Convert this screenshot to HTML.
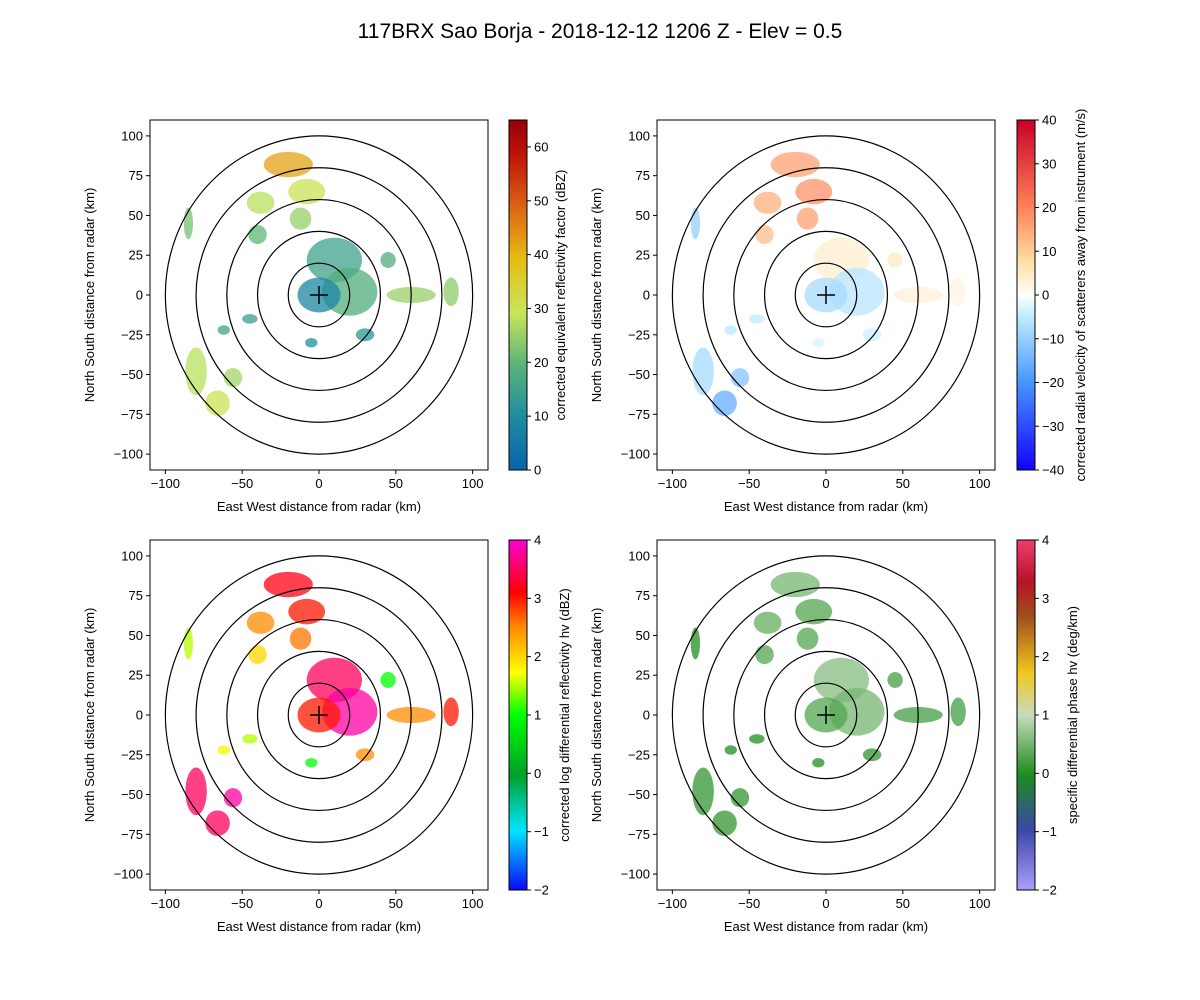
<!DOCTYPE html>
<html><head><meta charset="utf-8"><style>
body{margin:0;background:#fff}
svg{display:block;font-family:"Liberation Sans","DejaVu Sans",sans-serif}
</style></head><body>
<svg id="fig" width="1200" height="1000" viewBox="0 0 1200 1000" xmlns="http://www.w3.org/2000/svg">
<rect width="1200" height="1000" fill="#fff"/>
<text x="600" y="38" font-size="21" text-anchor="middle">117BRX Sao Borja - 2018-12-12 1206 Z -  Elev = 0.5</text>
</svg>
<script>
// echo cell data (km): center x, center y, radius x, radius y
const cellX=[-20,-8,-38,-12,-85,-40,10,20,0,60,86,45,-80,-56,-66,-45,-62,30,-5];
const cellY=[82,65,58,48,45,38,22,2,0,0,2,22,-48,-52,-68,-15,-22,-25,-30];
const cellRX=[16,12,9,7,3,6,18,18,14,16,5,5,7,6,8,5,4,6,4];
const cellRY=[8,8,7,7,10,6,14,15,11,5,9,5,15,6,8,3,3,4,3];
const reflValues=[42,30,28,25,22,20,15,18,8,25,24,18,28,26,30,14,15,12,10];
const velValues=[16,18,14,16,-10,12,4,-6,-8,3,2,5,-8,-12,-16,-5,-6,-4,-3];
const zdrValues=[3.2,3,2.5,2.6,1.5,2,3.5,3.8,3,2.5,3,1,3.5,3.8,3.5,1.5,1.8,2.5,1];
const kdpValues=[0.5,0.3,0.4,0.3,0,0.3,0.6,0.5,0.3,0.2,0.2,0.2,0.1,0.1,0.1,0,0,0.1,0];
const ringRadii=[20,40,60,80,100];
const xTicks=[-100,-50,0,50,100];
const yTicks=[-100,-75,-50,-25,0,25,50,75,100];

const NS="http://www.w3.org/2000/svg";
const svg=document.getElementById('fig');
function el(t,a,p){const e=document.createElementNS(NS,t);for(const k in a)e.setAttribute(k,a[k]);(p||svg).appendChild(e);return e;}
function lerpMap(stops,t){t=Math.max(0,Math.min(1,t));for(let i=1;i<stops.length;i++){if(t<=stops[i][0]){const a=stops[i-1],b=stops[i];const f=(t-a[0])/(b[0]-a[0]||1);const c=[0,1,2].map(j=>Math.round(a[1][j]+(b[1][j]-a[1][j])*f));return `rgb(${c})`;}}return `rgb(${stops[stops.length-1][1]})`;}
const cmRefl=[[0,[10,100,170]],[0.15,[30,140,160]],[0.3,[90,180,120]],[0.45,[200,230,90]],[0.6,[230,190,20]],[0.75,[220,100,20]],[0.9,[190,20,10]],[1,[150,0,10]]];
const cmVel=[[0,[20,0,250]],[0.25,[70,150,255]],[0.45,[200,240,255]],[0.5,[255,255,250]],[0.6,[255,220,160]],[0.75,[255,130,90]],[1,[200,0,40]]];
const cmZdr=[[0,[10,10,250]],[0.17,[0,230,255]],[0.33,[0,160,40]],[0.5,[0,255,0]],[0.62,[255,255,0]],[0.75,[255,140,0]],[0.85,[255,0,0]],[1,[255,0,210]]];
const cmKdp=[[0,[170,160,250]],[0.17,[60,70,170]],[0.33,[30,140,30]],[0.5,[200,220,190]],[0.62,[240,200,30]],[0.78,[160,80,30]],[0.88,[180,20,40]],[1,[240,60,110]]];

const panels=[
 {ax:150,ay:120,cb:509,lo:56,vals:reflValues,cm:cmRefl,vmin:0,vmax:65,ticks:[0,10,20,30,40,50,60],label:"corrected equivalent reflectivity factor (dBZ)",name:"reflectivity"},
 {ax:657,ay:120,cb:1017,lo:68,vals:velValues,cm:cmVel,vmin:-40,vmax:40,ticks:[-40,-30,-20,-10,0,10,20,30,40],label:"corrected radial velocity of scatterers away from instrument (m/s)",name:"velocity"},
 {ax:150,ay:540,cb:509,lo:60,vals:zdrValues,cm:cmZdr,vmin:-2,vmax:4,ticks:[-2,-1,0,1,2,3,4],label:"corrected log differential reflectivity hv (dBZ)",name:"zdr"},
 {ax:657,ay:540,cb:1017,lo:60,vals:kdpValues,cm:cmKdp,vmin:-2,vmax:4,ticks:[-2,-1,0,1,2,3,4],label:"specific differential phase hv (deg/km)",name:"kdp"}];
const W=338,H=350;
panels.forEach((p,pi)=>{
 const g=el('g',{});
 
 
 const sx=v=>p.ax+(v+110)/220*W, sy=v=>p.ay+(110-v)/220*H;
 const clipId='c'+pi;
 const cp=el('clipPath',{id:clipId},g);el('rect',{x:p.ax,y:p.ay,width:W,height:H},cp);
 const dg=el('g',{'clip-path':`url(#${clipId})`},g);
 cellX.forEach((cx,i)=>{
  const c=lerpMap(p.cm,(p.vals[i]-p.vmin)/(p.vmax-p.vmin));
  const e=el('ellipse',{cx:sx(cx),cy:sy(cellY[i]),rx:cellRX[i]*W/220,ry:cellRY[i]*H/220,fill:c,'fill-opacity':0.75},dg);
  
  
 });
 ringRadii.forEach(r=>{const e=el('ellipse',{cx:sx(0),cy:sy(0),rx:r*W/220,ry:r*H/220,fill:'none',stroke:'#000','stroke-width':1.2},dg);
  
  });
 el('path',{d:`M${sx(0)-9},${sy(0)}h18M${sx(0)},${sy(0)-9}v18`,stroke:'#000','stroke-width':1.5},g);
 const fr=el('rect',{x:p.ax,y:p.ay,width:W,height:H,fill:'none',stroke:'#000','stroke-width':1},g);
 
 
 xTicks.forEach(t=>{const x=sx(t);el('line',{x1:x,x2:x,y1:p.ay+H,y2:p.ay+H+4,stroke:'#000'},g);
  const tx=el('text',{x:x,y:p.ay+H+18,'font-size':13,'text-anchor':'middle'},g);tx.textContent=t<0?'\u2212'+(-t):t;
  });
 yTicks.forEach(t=>{const y=sy(t);el('line',{x1:p.ax-4,x2:p.ax,y1:y,y2:y,stroke:'#000'},g);
  const tx=el('text',{x:p.ax-7,y:y+4.5,'font-size':13,'text-anchor':'end'},g);tx.textContent=t<0?'\u2212'+(-t):t;
  });
 const xl=el('text',{x:p.ax+W/2,y:p.ay+H+41,'font-size':13,'text-anchor':'middle'},g);xl.textContent='East West distance from radar (km)';
 
 const yl=el('text',{transform:`translate(${p.ax-56},${p.ay+H/2}) rotate(-90)`,'font-size':13,'text-anchor':'middle'},g);yl.textContent='North South distance from radar (km)';
 
 const gid='g'+pi;const lg=el('linearGradient',{id:gid,x1:0,y1:1,x2:0,y2:0},g);
 p.cm.forEach(s=>el('stop',{offset:s[0],'stop-color':`rgb(${s[1]})`},lg));
 const cb=el('rect',{x:p.cb,y:p.ay,width:18,height:H,fill:`url(#${gid})`,stroke:'#000','stroke-width':1},g);
 
 p.ticks.forEach(t=>{const y=p.ay+H-(t-p.vmin)/(p.vmax-p.vmin)*H;el('line',{x1:p.cb+18,x2:p.cb+22,y1:y,y2:y,stroke:'#000'},g);
  const tx=el('text',{x:p.cb+25,y:y+4.5,'font-size':13},g);tx.textContent=t<0?'\u2212'+(-t):t;
  });
 const cl=el('text',{transform:`translate(${p.cb+p.lo},${p.ay+H/2}) rotate(-90)`,'font-size':13,'text-anchor':'middle'},g);cl.textContent=p.label;
 
});
</script>
</body></html>
